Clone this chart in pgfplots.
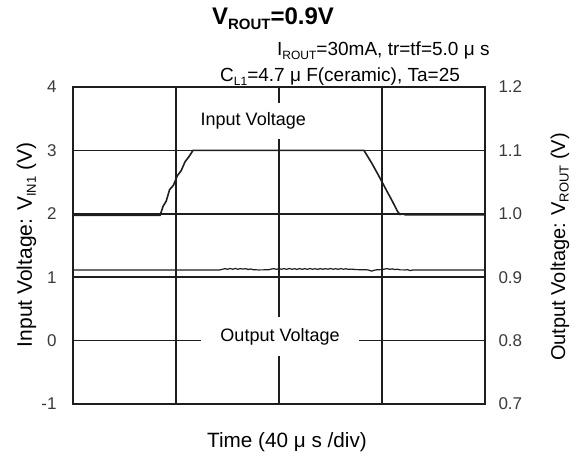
\documentclass[border=0pt]{standalone}
\usepackage{pgfplots}
\pgfplotsset{compat=1.18}
\usepackage{fontspec}
\setmainfont{Liberation Sans}
\newcommand\sub[1]{\raisebox{-0.35ex}{\fontsize{12}{12}\selectfont #1}}
\newcommand\subl[1]{\raisebox{-0.35ex}{\fontsize{13}{13}\selectfont #1}}
\newcommand\subb[1]{\raisebox{-0.35ex}{\fontsize{15}{15}\selectfont\bfseries #1}}
\definecolor{ln}{HTML}{1E1E1E}
\definecolor{tk}{HTML}{3A3A3A}
\begin{document}
\begin{tikzpicture}[x=1pt,y=1pt]
\path[use as bounding box] (0,0) rectangle (577,456);
\begin{axis}[
  at={(73pt,52pt)}, anchor=south west,
  width=412pt, height=317pt, scale only axis,
  xmin=0, xmax=160, ymin=-1, ymax=4,
  xtick={0,40,80,120,160}, xticklabels={},
  ytick={-1,0,1,2,3,4},
  grid=major,
  major grid style={line width=1.6pt, color=ln},
  axis line style={line width=1.6pt, color=ln},
  major tick length=0pt,
  /pgf/number format/assume math mode=true,
  yticklabel style={font=\fontsize{17}{20}\selectfont, text=tk, xshift=-13pt},
  clip=false,
]
\addplot[ln, line width=1.6pt] coordinates {
 (0,1.975) (33.8,1.975) (35,2.12) (36.2,2.2) (37.5,2.38) (39,2.45) (40.5,2.6) (42,2.68) (43.5,2.82) (45,2.9) (46.6,3.0) (113,3.0)
 (116,2.8) (119,2.58) (122,2.35) (124,2.2) (126,2.04) (127,1.99) (128,2.0) (129,1.985) (160,1.985)};
\node[fill=white, inner sep=0pt, minimum width=112pt, minimum height=36pt, font=\fontsize{18}{20}\selectfont] at (axis cs:70,3.46) {Input Voltage};
\node[fill=white, inner sep=0pt, minimum width=158pt, minimum height=39pt, font=\fontsize{18}{20}\selectfont] at (axis cs:80.4,0.065) {Output Voltage};
\end{axis}
\begin{axis}[
  at={(73pt,52pt)}, anchor=south west,
  width=412pt, height=317pt, scale only axis,
  xmin=0, xmax=160, ymin=0.7, ymax=1.2,
  axis x line=none, axis y line*=right,
  ytick={0.7,0.8,0.9,1.0,1.1,1.2},
  yticklabel style={/pgf/number format/.cd, fixed, fixed zerofill, precision=1, /tikz/.cd, font=\fontsize{17}{20}\selectfont, text=tk, xshift=10pt},
  /pgf/number format/assume math mode=true,
  axis line style={line width=1.6pt, color=ln},
  major tick length=0pt,
]
\addplot[ln, line width=1.2pt] coordinates {
 (0,0.9115) (57,0.9115) (58,0.9125) (59,0.9135) (60,0.9125) (61,0.9138) (62,0.9125) (63,0.9138) (64,0.9125) (65,0.9135) (66,0.9128) (67,0.9135) (68,0.9122) (69,0.913) (70,0.9118)
 (72,0.9115) (74,0.9116) (76,0.9118) (77,0.9128) (78,0.9135) (79,0.9124) (80,0.9136) (81,0.9126) (82,0.9135) (83,0.9124) (84,0.9137) (85,0.9125) (86,0.9134) (87,0.9123) (88,0.9136)
 (89,0.9125) (90,0.9135) (91,0.9124) (92,0.9137) (93,0.9126) (94,0.9134) (95,0.9123) (96,0.9136) (97,0.9125) (98,0.9135) (99,0.9126) (100,0.9137) (101,0.9125) (102,0.9134)
 (103,0.9124) (104,0.9136) (105,0.9126) (106,0.9133) (107,0.9124) (108,0.9128) (110,0.912) (112,0.9118) (114,0.9118) (115,0.911) (116,0.9096) (117,0.911) (118,0.9118)
 (120,0.912) (121,0.9128) (122,0.9136) (123,0.9124) (124,0.9132) (125,0.912) (126,0.9127) (127,0.9116) (129,0.9115) (130,0.9118) (131,0.9104) (132,0.9115) (160,0.9115)};
\end{axis}
\node[font=\fontsize{24}{26}\selectfont\bfseries, anchor=base, inner sep=0pt] at (273,431) {V\subb{ROUT}=0.9V};
\node[font=\fontsize{19}{20}\selectfont, anchor=base west, inner sep=0pt] at (277,400) {I\sub{ROUT}=30mA, tr=tf=5.0 μ s};
\node[font=\fontsize{19}{20}\selectfont, anchor=base west, inner sep=0pt] at (220,374) {C\sub{L1}=4.7 μ F(ceramic), Ta=25};
\node[font=\fontsize{21}{22}\selectfont, rotate=90, anchor=base, inner sep=0pt] at (32,211) {Input Voltage: V\subl{IN1} (V)};
\node[font=\fontsize{20}{22}\selectfont, rotate=90, anchor=base, inner sep=0pt] at (565,209) {Output Voltage: V\subl{ROUT} (V)};
\node[font=\fontsize{20.7}{22}\selectfont, anchor=base, inner sep=0pt] at (287,9) {Time (40 μ s /div)};
\end{tikzpicture}
\end{document}
